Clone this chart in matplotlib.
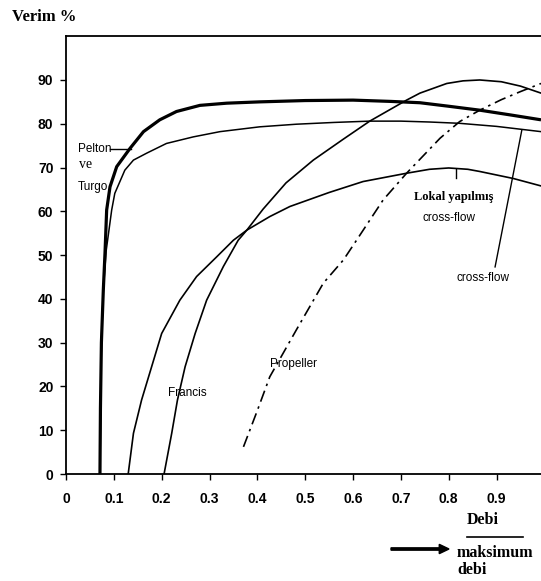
import matplotlib
matplotlib.use("Agg")
import matplotlib.pyplot as plt
from matplotlib.lines import Line2D
from matplotlib.patches import FancyArrow

# ---------------- data ----------------
pelton_x = [0.071, 0.072, 0.074, 0.078, 0.0815, 0.085, 0.092, 0.106, 0.134, 0.162,
            0.196, 0.231, 0.28, 0.336, 0.405, 0.5, 0.6, 0.68, 0.74, 0.8, 0.865, 0.93, 0.993]
pelton_y = [0, 15, 30, 42, 50.4, 60.3, 65.6, 70.2, 74.4, 78.2,
            80.9, 82.8, 84.2, 84.7, 85.0, 85.3, 85.4, 85.1, 84.8, 84.0, 83.1, 82.0, 80.9]

crossflow_x = [0.071, 0.074, 0.078, 0.084, 0.0955, 0.102, 0.123, 0.141, 0.169, 0.210,
               0.266, 0.322, 0.405, 0.482, 0.56, 0.635, 0.70, 0.76, 0.823, 0.90, 0.993]
crossflow_y = [0, 30, 42, 51, 60.3, 64.1, 69.4, 71.7, 73.3, 75.5,
               77.0, 78.2, 79.3, 79.9, 80.3, 80.6, 80.6, 80.4, 80.1, 79.4, 78.2]

lokal_x = [0.130, 0.141, 0.158, 0.179, 0.200, 0.238, 0.273, 0.315, 0.350, 0.378,
           0.426, 0.468, 0.55, 0.621, 0.712, 0.76, 0.80, 0.84, 0.865, 0.935, 0.993]
lokal_y = [0, 9.3, 16.9, 24.5, 32.1, 39.7, 45.1, 49.6, 53.4, 55.7,
           58.8, 61.1, 64.3, 66.8, 68.7, 69.6, 69.9, 69.6, 69.1, 67.5, 65.8]

francis_x = [0.205, 0.221, 0.233, 0.249, 0.270, 0.294, 0.329, 0.360, 0.378, 0.412,
             0.46, 0.517, 0.58, 0.635, 0.712, 0.74, 0.796, 0.83, 0.865, 0.91, 0.95, 0.993]
francis_y = [0, 9.3, 16.9, 24.5, 32.1, 39.7, 47.4, 53.4, 55.7, 60.5,
             66.5, 71.7, 76.5, 80.6, 85.4, 87.0, 89.2, 89.8, 90.0, 89.6, 88.6, 87.0]

propeller_x = [0.371, 0.40, 0.426, 0.482, 0.538, 0.580, 0.608, 0.663, 0.712, 0.782,
               0.823, 0.865, 0.91, 0.949, 0.993]
propeller_y = [6.2, 14.5, 22.2, 33.0, 43.6, 48.9, 53.5, 62.6, 68.7, 76.7,
               80.5, 83.1, 85.5, 87.3, 89.2]

x_ticks = [0, 0.1, 0.2, 0.3, 0.4, 0.5, 0.6, 0.7, 0.8, 0.9]
x_tick_labels = ["0", "0.1", "0.2", "0.3", "0.4", "0.5", "0.6", "0.7", "0.8", "0.9"]
y_ticks = [0, 10, 20, 30, 40, 50, 60, 70, 80, 90]
y_tick_labels = [str(v) for v in y_ticks]

# ---------------- figure ----------------
SANS = ["Liberation Sans", "DejaVu Sans"]
SERIF = ["Liberation Serif", "DejaVu Serif"]

fig = plt.figure(figsize=(5.41, 5.81), dpi=100)
ax = fig.add_axes([66 / 541, 107 / 581, 1 - 66 / 541, 0.9377 - 107 / 581])
ax.set_xlim(0, 0.993)
ax.set_ylim(0, 100)

ax.plot(pelton_x, pelton_y, color="black", lw=2.3, solid_capstyle="butt")
ax.plot(crossflow_x, crossflow_y, color="black", lw=1.1)
ax.plot(lokal_x, lokal_y, color="black", lw=1.2)
ax.plot(francis_x, francis_y, color="black", lw=1.2)
ax.plot(propeller_x, propeller_y, color="black", lw=1.2,
        linestyle=(0, (7, 3, 1.5, 3)))

for s in ["left", "bottom", "top"]:
    ax.spines[s].set_linewidth(1.3)
ax.spines["right"].set_visible(False)

ax.set_xticks(x_ticks)
ax.set_xticklabels(x_tick_labels)
ax.set_yticks(y_ticks)
ax.set_yticklabels(y_tick_labels)
ax.tick_params(axis="x", direction="out", length=4, width=1, pad=9)
ax.tick_params(axis="y", direction="out", length=4, width=1, pad=5)
for lab in ax.get_xticklabels() + ax.get_yticklabels():
    lab.set_fontfamily(SANS)
    lab.set_fontsize(10)
    lab.set_fontweight("bold")

# ---- curve labels ----
ax.text(0.025, 74.2, "Pelton", fontsize=8.5, family=SANS, va="center", ha="left")
ax.add_line(Line2D([0.093, 0.136], [74.2, 74.2], color="black", lw=1.0))
ax.text(0.028, 70.6, "ve", fontsize=10, family=SERIF, va="center", ha="left")
ax.text(0.025, 65.6, "Turgo", fontsize=8.5, family=SANS, va="center", ha="left")

ax.text(0.213, 18.5, "Francis", fontsize=8.5, family=SANS, va="center", ha="left")
ax.text(0.426, 25.1, "Propeller", fontsize=8.5, family=SANS, va="center", ha="left")

ax.add_line(Line2D([0.815, 0.815], [69.6, 67.6], color="black", lw=1.0))
ax.text(0.811, 63.3, "Lokal yapılmış", fontsize=9, family=SERIF, fontweight="bold",
        va="center", ha="center")
ax.text(0.800, 58.5, "cross-flow", fontsize=8.5, family=SANS, va="center", ha="center")

ax.text(0.871, 44.8, "cross-flow", fontsize=8.5, family=SANS, va="center", ha="center")
ax.add_line(Line2D([0.897, 0.953], [47.3, 78.6], color="black", lw=1.0))

# ---- axis titles ----
fig.text(12 / 541, 1 - 17 / 581, "Verim %", fontsize=12, family=SERIF, fontweight="bold",
         va="center", ha="left")
fig.text(483 / 541, 1 - 520 / 581, "Debi", fontsize=11.5, family=SERIF, fontweight="bold",
         va="center", ha="center")
fig.add_artist(Line2D([467 / 541, 523 / 541], [1 - 537 / 581, 1 - 537 / 581],
                      color="black", lw=1.2, transform=fig.transFigure))
fig.text(457 / 541, 1 - 553 / 581, "maksimum", fontsize=11.5, family=SERIF, fontweight="bold",
         va="center", ha="left")
fig.text(457 / 541, 1 - 570 / 581, "debi", fontsize=11.5, family=SERIF, fontweight="bold",
         va="center", ha="left")
fig.patches.append(FancyArrow(
    391 / 541, 1 - 549 / 581, 58 / 541, 0, width=0.004, head_width=0.016,
    head_length=0.018, length_includes_head=True, color="black",
    transform=fig.transFigure, figure=fig))

fig.savefig("out.png", dpi=100)
